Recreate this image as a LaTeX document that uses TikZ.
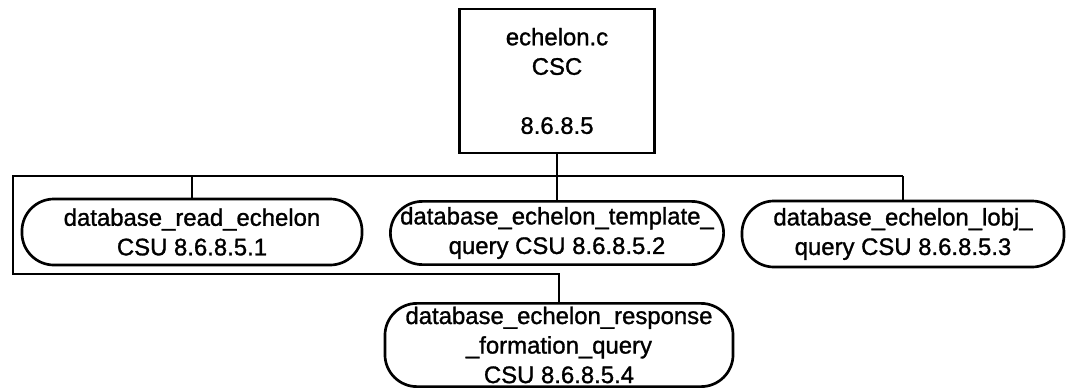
\documentclass[tikz,border=0pt]{standalone}
\usepackage{fontspec}
\setmainfont{Liberation Sans}
\newfontfamily\scanfont[FakeBold=1.2]{Liberation Sans}
\usepackage{tikz}
\usetikzlibrary{positioning,calc}
\tikzset{
  cscbox/.style={draw, line width=1.9pt, minimum width=4.875cm, minimum height=3.6cm, align=center, inner sep=0pt},
  csubox/.style={draw, line width=1.9pt, rounded corners=0.8cm, minimum height=1.65cm, align=center, inner sep=0pt},
  busline/.style={line width=1.9pt}
}

\begin{document}
\begin{tikzpicture}[x=0.025cm, y=-0.025cm, every node/.style={font=\scanfont\fontsize{17}{21}\selectfont}]
  \useasboundingbox (0,0) rectangle (1069,388);
  \node[cscbox] (csc) at (557,81) {echelon.c\\CSC\\ \\8.6.8.5};
  \node[csubox, minimum width=8.5cm] (rdech) at (192,232) {database\_read\_echelon\\CSU 8.6.8.5.1};
  \node[csubox, minimum width=8.33cm, minimum height=1.58cm] (tmplq) at (557,233) {database\_echelon\_template\_\\query CSU 8.6.8.5.2};
  \node[csubox, minimum width=8.05cm] (lobjq) at (903,234) {database\_echelon\_lobj\_\\query CSU 8.6.8.5.3};
  \node[csubox, minimum width=8.7cm, minimum height=2.08cm] (respq) at (559,345) {database\_echelon\_response\\\_formation\_query\\CSU 8.6.8.5.4};
  \coordinate (busL) at (13,176);
  \coordinate (busR) at (903,176);
  \coordinate (lowL) at (13,274);
  \draw[busline] (busR) -- (busL) -- (lowL) -| (respq.north);
  \draw[busline] (csc.south) -- (tmplq.north);
  \draw[busline] (rdech.north) -- (rdech.north |- busL);
  \draw[busline] (lobjq.north) -- (busR);
\end{tikzpicture}
\end{document}
